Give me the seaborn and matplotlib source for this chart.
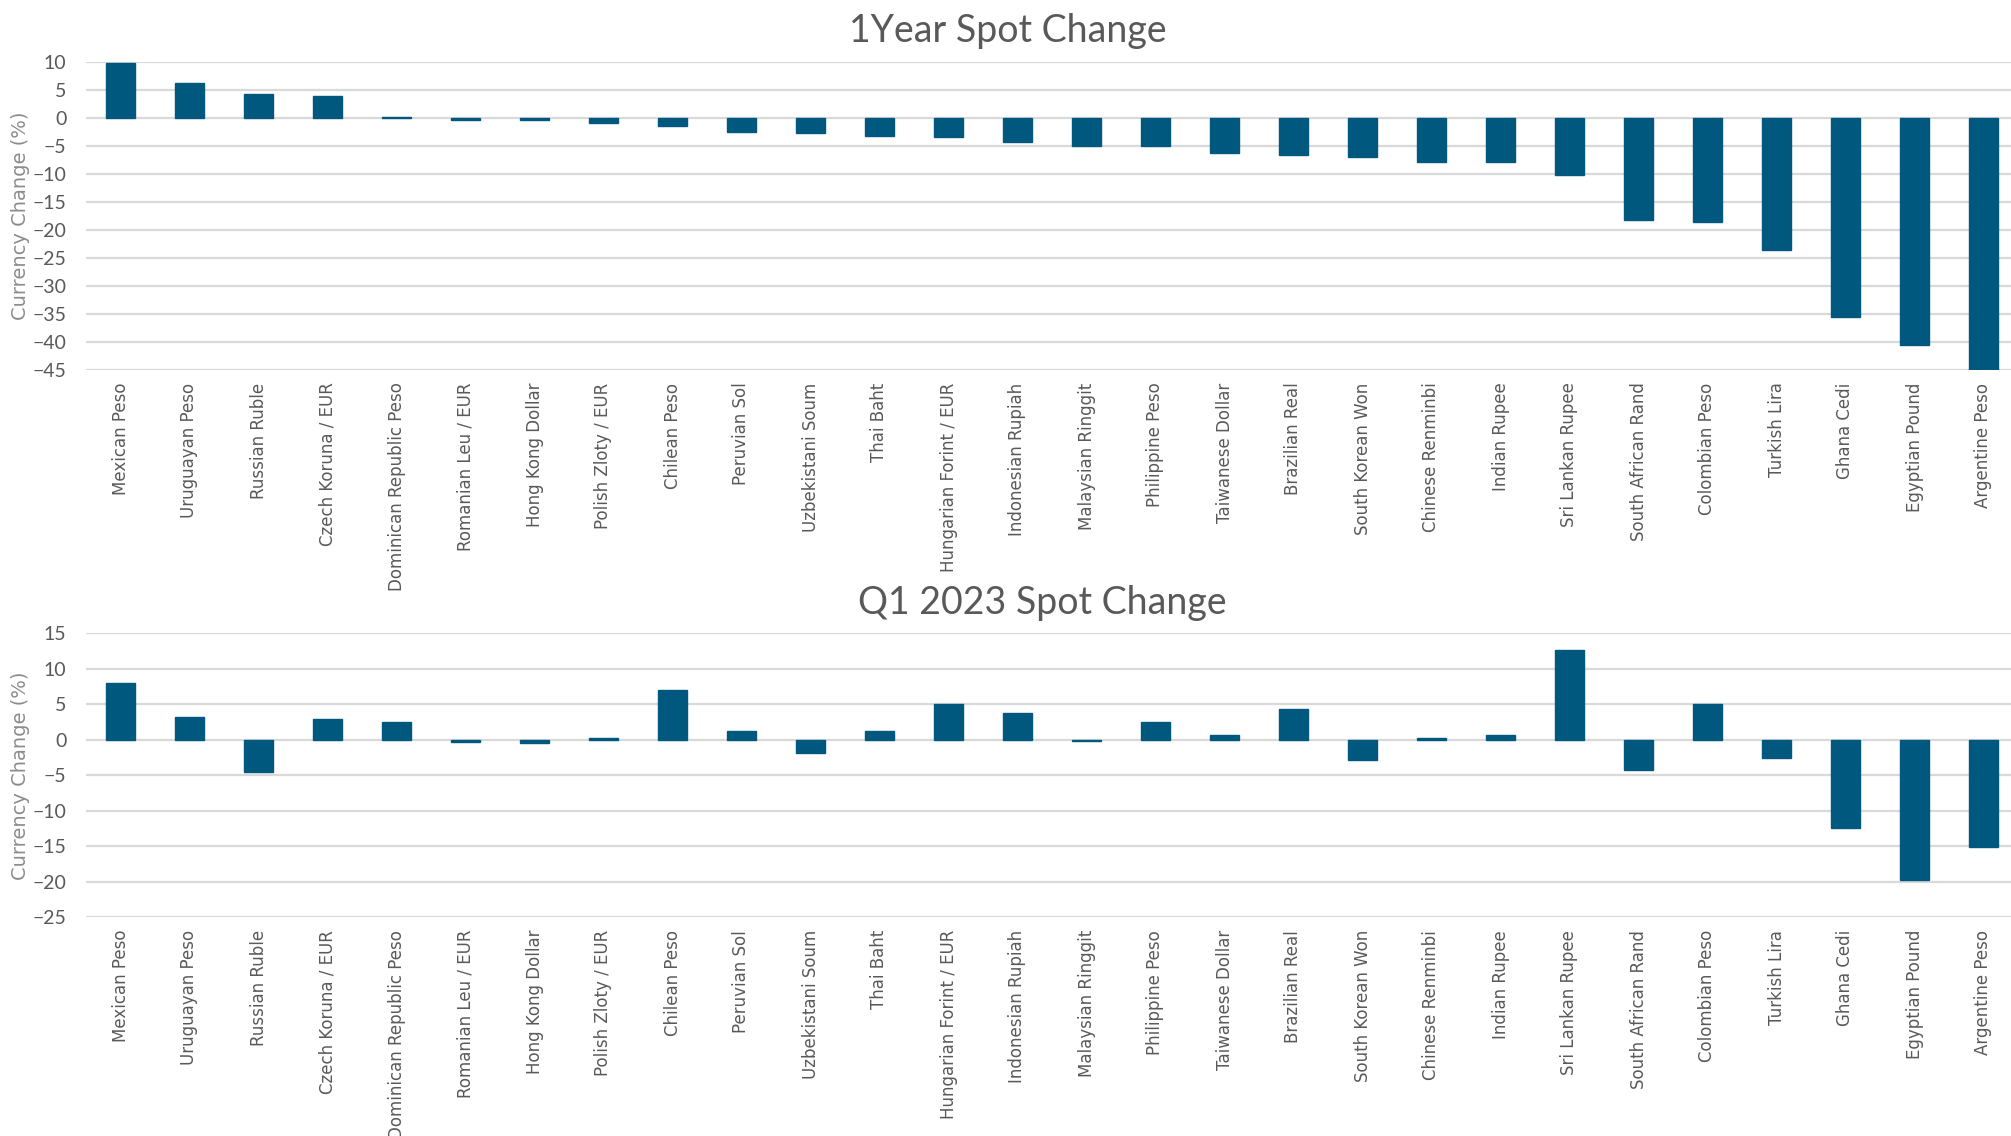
import matplotlib
matplotlib.use("Agg")
import matplotlib.pyplot as plt
import seaborn as sns
import pandas as pd

# Currency names (same order in both panels)
currencies = [
    "Mexican Peso", "Uruguayan Peso", "Russian Ruble", "Czech Koruna / EUR",
    "Dominican Republic Peso", "Romanian Leu / EUR", "Hong Kong Dollar",
    "Polish Zloty / EUR", "Chilean Peso", "Peruvian Sol", "Uzbekistani Soum",
    "Thai Baht", "Hungarian Forint / EUR", "Indonesian Rupiah",
    "Malaysian Ringgit", "Philippine Peso", "Taiwanese Dollar", "Brazilian Real",
    "South Korean Won", "Chinese Renminbi", "Indian Rupee", "Sri Lankan Rupee",
    "South African Rand", "Colombian Peso", "Turkish Lira", "Ghana Cedi",
    "Egyptian Pound", "Argentine Peso",
]

# 1 year spot change (%)
one_year = [
    9.8, 6.3, 4.3, 4.0, 0.3, -0.4, -0.4, -0.8, -1.4, -2.4, -2.7, -3.1, -3.4,
    -4.3, -5.0, -5.0, -6.3, -6.6, -6.9, -7.9, -7.9, -10.1, -18.2, -18.5,
    -23.6, -35.5, -40.6, -45.0,
]

# Q1 2023 spot change (%)
q1_2023 = [
    8.0, 3.2, -4.5, 3.0, 2.5, -0.3, -0.5, 0.2, 7.0, 1.2, -1.8, 1.2, 5.0,
    3.8, -0.2, 2.5, 0.7, 4.3, -2.8, 0.3, 0.7, 12.6, -4.3, 5.1, -2.5, -12.4,
    -19.8, -15.1,
]

titles = ["1Year Spot Change", "Q1 2023 Spot Change"]
y_ranges = [(-45, 10), (-25, 15)]

bar_color = "#00587F"
text_gray = "#595959"
grid_gray = "#D9D9D9"

sns.set_style("white")
plt.rcParams["font.family"] = ["DejaVu Sans"]

fig = plt.figure(figsize=(20.11, 11.36), dpi=100)

# axes boxes in figure fractions [left, bottom, width, height]
left = 86 / 2011
width = (2011 - 86) / 2011
boxes = [
    [left, 1 - 370 / 1136, width, (370 - 62.3) / 1136],
    [left, 1 - 917.3 / 1136, width, (917.3 - 633.3) / 1136],
]
title_pos = [(1008 / 2011, 1 - 31 / 1136), (1042 / 2011, 1 - 603 / 1136)]

for i, values in enumerate([one_year, q1_2023]):
    df = pd.DataFrame({"Currency": currencies, "Change": values})
    ax = fig.add_axes(boxes[i])
    sns.barplot(data=df, x="Currency", y="Change", color=bar_color,
                width=0.42, saturation=1, edgecolor=bar_color, linewidth=1.0,
                ax=ax)
    for p in ax.patches:
        p.set_zorder(3)
    lo, hi = y_ranges[i]
    ax.set_ylim(lo, hi)
    ax.set_yticks(range(lo, hi + 1, 5))
    ax.set_xlim(-0.5, -0.5 + 1925 / 69)
    ax.yaxis.grid(True, color=grid_gray, linewidth=1.6, zorder=0)
    ax.set_axisbelow(True)
    for s in ax.spines.values():
        s.set_visible(False)
    ax.tick_params(axis="both", length=0)
    ax.tick_params(axis="y", pad=14, labelsize=14, labelcolor=text_gray)
    ax.tick_params(axis="x", pad=9, labelsize=12, labelcolor=text_gray)
    for lab in ax.get_yticklabels():
        lab.set_family(["Liberation Sans Narrow", "Lato"])
    plt.setp(ax.get_xticklabels(), rotation=90, va="top", ha="center")
    ax.set_xlabel("")
    ax.set_ylabel("Currency Change (%)", fontsize=14, color="#8C8C8C", labelpad=2)
    fig.text(title_pos[i][0], title_pos[i][1], titles[i], ha="center", va="center",
             fontsize=27, color=text_gray, family=["Lato"])

fig.savefig("out.png", dpi=100)
